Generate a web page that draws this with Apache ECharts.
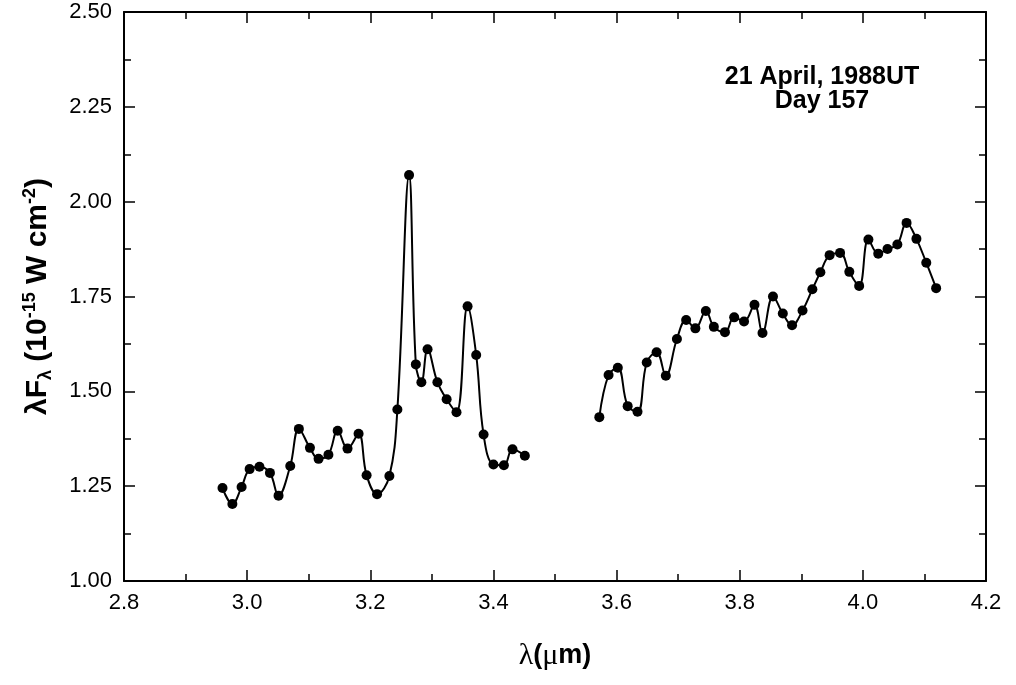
<!DOCTYPE html>
<html>
<head>
<meta charset="utf-8">
<style>
  html, body { margin: 0; padding: 0; background: #fff; }
  #spectrum { width: 1016px; height: 685px; }
</style>
<script src="https://cdn.jsdelivr.net/npm/echarts@6/dist/echarts.min.js"></script>
</head>
<body>
<div id="spectrum"></div>
<script>
// short-wavelength part (3.0 - 3.45 um)
const wl1 = [2.960, 2.976, 2.991, 3.004, 3.020, 3.037, 3.051, 3.070, 3.084, 3.102, 3.116,
  3.132, 3.147, 3.163, 3.181, 3.194, 3.211, 3.231, 3.244, 3.263, 3.274, 3.283,
  3.293, 3.309, 3.324, 3.340, 3.358, 3.372, 3.384, 3.400, 3.417, 3.431, 3.451];
const flux1 = [1.245, 1.203, 1.248, 1.295, 1.301, 1.285, 1.225, 1.303, 1.401, 1.351, 1.322,
  1.333, 1.396, 1.349, 1.388, 1.279, 1.229, 1.277, 1.452, 2.070, 1.571, 1.524,
  1.611, 1.524, 1.479, 1.445, 1.724, 1.596, 1.386, 1.307, 1.305, 1.347, 1.330];

// long-wavelength part (3.57 - 4.12 um)
const wl2 = [3.572, 3.587, 3.602, 3.618, 3.634, 3.649, 3.665, 3.680, 3.698, 3.713, 3.728,
  3.745, 3.758, 3.776, 3.791, 3.807, 3.824, 3.837, 3.854, 3.870, 3.885, 3.902,
  3.918, 3.931, 3.946, 3.963, 3.978, 3.994, 4.009, 4.025, 4.040, 4.056, 4.071,
  4.087, 4.103, 4.119];
const flux2 = [1.432, 1.543, 1.562, 1.461, 1.446, 1.576, 1.603, 1.541, 1.638, 1.688, 1.666,
  1.712, 1.670, 1.656, 1.695, 1.684, 1.728, 1.654, 1.750, 1.705, 1.674, 1.713,
  1.769, 1.814, 1.859, 1.865, 1.815, 1.778, 1.900, 1.863, 1.875, 1.887, 1.944,
  1.902, 1.839, 1.772];

const noteLines = ['21 April, 1988UT', 'Day 157'];

const FONT = '"Liberation Sans", Arial, Helvetica, sans-serif';
const pair = (xs, ys) => xs.map((x, i) => [x, ys[i]]);

const frameLine = { show: true, onZero: false, lineStyle: { color: '#000', width: 2 } };

function xAx(pos, labels) {
  return {
    type: 'value', position: pos, min: 2.8, max: 4.2, interval: 0.2,
    axisLine: frameLine,
    axisTick: { show: true, inside: true, length: 11, lineStyle: { color: '#000', width: 1.5 } },
    minorTick: { show: true, splitNumber: 2, length: 7, lineStyle: { color: '#000', width: 1.5 } },
    splitLine: { show: false },
    axisLabel: labels ? {
      show: true, margin: 11, color: '#000', fontSize: 22, fontFamily: FONT,
      formatter: v => v.toFixed(1)
    } : { show: false }
  };
}

function yAx(pos, labels) {
  return {
    type: 'value', position: pos, min: 1.0, max: 2.5, interval: 0.25,
    axisLine: frameLine,
    axisTick: { show: true, inside: true, length: 11, lineStyle: { color: '#000', width: 1.5 } },
    minorTick: { show: true, splitNumber: 2, length: 7, lineStyle: { color: '#000', width: 1.5 } },
    splitLine: { show: false },
    axisLabel: labels ? {
      show: true, margin: 12, color: '#000', fontSize: 22, fontFamily: FONT,
      formatter: v => v.toFixed(2)
    } : { show: false }
  };
}

const xMain = xAx('bottom', true);
xMain.name = '{s|λ}{b|(}{s|μ}{b|m)}';
xMain.nameLocation = 'middle';
xMain.nameGap = 60;
xMain.nameTextStyle = {
  color: '#000',
  rich: {
    s: { fontFamily: '"Liberation Serif", "DejaVu Serif", serif', fontSize: 30, color: '#000' },
    b: { fontFamily: FONT, fontSize: 27, fontWeight: 'bold', color: '#000' }
  }
};

const yMain = yAx('left', true);
yMain.name = '{b|λF}{sub|λ}{b| (10}{sup|-15}{b| W cm}{sup|-2}{b|)}';
yMain.nameLocation = 'middle';
yMain.nameRotate = 90;
yMain.nameGap = 68;
yMain.nameTextStyle = {
  color: '#000',
  rich: {
    b: { fontFamily: FONT, fontSize: 30, fontWeight: 'bold', color: '#000', lineHeight: 36 },
    sup: { fontFamily: FONT, fontSize: 18, fontWeight: 'bold', color: '#000', lineHeight: 36, verticalAlign: 'top', padding: [1, 0, 0, 0] },
    sub: { fontFamily: FONT, fontSize: 18, fontWeight: 'bold', color: '#000', lineHeight: 36, verticalAlign: 'bottom', padding: [0, 0, 1, 0] }
  }
};

function spectrum(data) {
  return {
    type: 'line',
    xAxisIndex: 0, yAxisIndex: 0,
    data: data,
    smooth: 0.4,
    symbol: 'circle',
    symbolSize: 10,
    itemStyle: { color: '#000' },
    lineStyle: { color: '#000', width: 2 },
    silent: true,
    animation: false
  };
}

const option = {
  backgroundColor: '#fff',
  animation: false,
  grid: { left: 124, right: 30, top: 12, bottom: 104 },
  xAxis: [xMain, xAx('top', false)],
  yAxis: [yMain, yAx('right', false)],
  graphic: [{
    type: 'text',
    x: 822, y: 65,
    style: {
      text: noteLines.join('\n'),
      x: 0, y: 0,
      align: 'center',
      verticalAlign: 'top',
      font: 'bold 25px ' + FONT,
      lineHeight: 24,
      fill: '#000'
    }
  }],
  series: [spectrum(pair(wl1, flux1)), spectrum(pair(wl2, flux2))]
};

const chart = echarts.init(document.getElementById('spectrum'));
chart.setOption(option);
</script>
</body>
</html>
